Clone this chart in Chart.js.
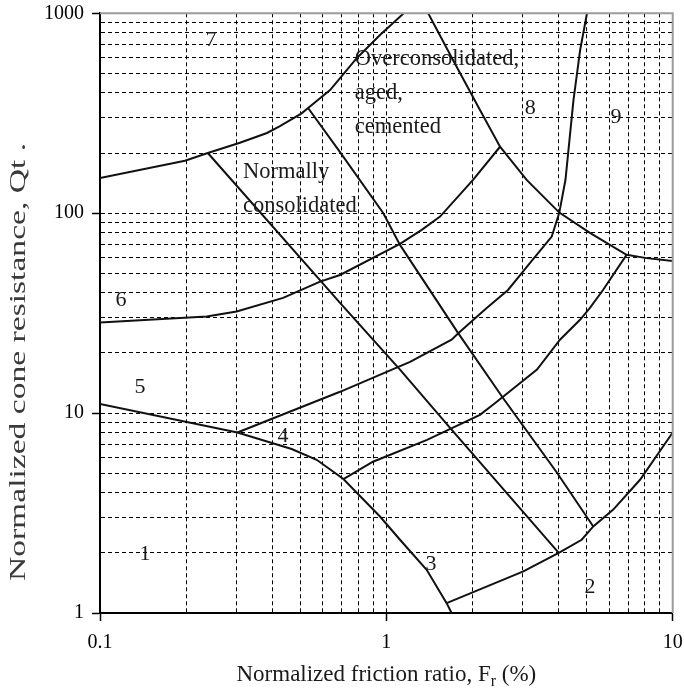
<!DOCTYPE html>
<html>
<head>
<meta charset="utf-8">
<title>Soil behaviour type chart</title>
<script src="https://cdn.jsdelivr.net/npm/chart.js@4.4.1/dist/chart.umd.min.js"></script>
<style>
  html, body { margin: 0; padding: 0; background: #fff; }
  #wrap { width: 684px; height: 692px; position: relative; }
</style>
</head>
<body>
<div id="wrap"><canvas id="sbtChart"></canvas></div>
<script>
// Zone boundaries as [Fr (%), Qt] pairs
const zone7Lower = [[0.1, 150], [0.198, 183], [0.238, 200], [0.308, 225], [0.383, 252], [0.425, 273],
  [0.506, 316], [0.533, 336], [0.636, 413], [0.788, 596], [0.95, 779], [1.15, 1000]];
const ncLeft = [[0.238, 200], [0.689, 35.6], [1.116, 16.5], [1.669, 8.44], [4.0, 2.0]];
const ncRight = [[0.533, 336], [0.689, 202], [0.976, 100], [1.116, 69.4], [1.779, 25.2],
  [2.555, 11.9], [3.944, 5.03], [5.28, 2.71]];
const zone6Upper = [[0.1, 28.4], [0.236, 30.4], [0.3, 32.2], [0.436, 37.7], [0.587, 45.5], [0.689, 49.1],
  [1.116, 70.2], [1.329, 82.5], [1.54, 96.2], [2.008, 146.7], [2.495, 215]];
const zone8Lower = [[1.40, 1000], [1.709, 584], [2.123, 328.5], [2.495, 215], [3.09, 146.7], [4.018, 100.7],
  [5.14, 79.7], [6.9, 61.9], [8.11, 59.6], [10, 57.7]];
const zone9Left = [[5.02, 1000], [4.75, 655], [4.504, 369], [4.222, 147], [4.018, 100.7], [3.781, 76.4],
  [3.176, 56.4], [2.66, 41.3], [2.241, 33.6], [1.783, 25.1], [1.69, 23.3], [1.21, 18.05], [0.689, 12.78], [0.302, 8.0]];
const zone4Upper = [[6.9, 61.9], [5.71, 41.3], [5.14, 33.6], [4.746, 29.3], [4.04, 23.3], [3.358, 16.5],
  [2.394, 11.2], [2.123, 9.8], [1.387, 7.35], [0.898, 5.71], [0.708, 4.68]];
const zone1Upper = [[0.1, 11.1], [0.302, 8.0], [0.467, 6.61], [0.571, 5.84], [0.708, 4.68], [0.95, 3.04],
  [1.116, 2.325], [1.383, 1.646], [1.624, 1.12], [1.69, 1]];
const zone2Upper = [[1.624, 1.12], [3.009, 1.615], [4.0, 2.0], [4.81, 2.325], [5.28, 2.71], [6.2, 3.29],
  [7.69, 4.64], [10, 8.0]];

// Grid lines and labelled ticks
const xGridValues = [0.1, 0.2, 0.3, 0.4, 0.5, 0.6, 0.7, 0.8, 0.9, 1, 2, 3, 4, 5, 6, 7, 8, 9, 10];
const yGridValues = [1, 2, 3, 4, 5, 6, 7, 8, 9, 10, 20, 30, 40, 50, 60, 70, 80, 90,
  100, 200, 300, 400, 500, 600, 700, 800, 900, 1000];
const xTickLabels = [0.1, 1, 10];
const yTickLabels = [1, 10, 100, 1000];

// Zone numbers and region notes, placed at [Fr, Qt]
const zoneNumbers = [
  { text: '1', at: [0.1437, 1.96] }, { text: '2', at: [5.14, 1.35] }, { text: '3', at: [1.432, 1.76] },
  { text: '4', at: [0.436, 7.7] }, { text: '5', at: [0.138, 13.5] }, { text: '6', at: [0.1184, 36.9] },
  { text: '7', at: [0.244, 735] }, { text: '8', at: [3.18, 336] }, { text: '9', at: [6.34, 303] }
];
const regionNotes = [
  { lines: ['Overconsolidated,', 'aged,', 'cemented'], at: [0.776, 551] },
  { lines: ['Normally', 'consolidated'], at: [0.316, 150] }
];

const SERIF = '"Liberation Serif", "Times New Roman", serif';

const boundaries = [zone7Lower, ncLeft, ncRight, zone6Upper, zone8Lower, zone9Left, zone4Upper, zone1Upper, zone2Upper];

const textPlugin = {
  id: 'chartText',
  afterDraw(chart) {
    const { ctx, scales: { x, y }, chartArea } = chart;
    ctx.save();

    // grey frame on top and right
    ctx.strokeStyle = '#9c9c9c';
    ctx.lineWidth = 2;
    ctx.beginPath();
    ctx.moveTo(chartArea.left, chartArea.top);
    ctx.lineTo(chartArea.right, chartArea.top);
    ctx.lineTo(chartArea.right, chartArea.bottom);
    ctx.stroke();

    ctx.fillStyle = '#1a1a1a';
    ctx.font = `22px ${SERIF}`;
    ctx.textAlign = 'center';
    ctx.textBaseline = 'middle';
    zoneNumbers.forEach(z => {
      ctx.fillText(z.text, x.getPixelForValue(z.at[0]), y.getPixelForValue(z.at[1]));
    });

    ctx.font = `22.5px ${SERIF}`;
    ctx.textAlign = 'left';
    ctx.textBaseline = 'alphabetic';
    regionNotes.forEach(n => {
      const px = x.getPixelForValue(n.at[0]);
      const py = y.getPixelForValue(n.at[1]);
      n.lines.forEach((line, i) => ctx.fillText(line, px, py + i * 34));
    });

    // x axis title with subscript
    const main = 'Normalized friction ratio, F';
    const sub = 'r';
    const tail = ' (%)';
    ctx.font = `23px ${SERIF}`;
    const wMain = ctx.measureText(main).width;
    const wTail = ctx.measureText(tail).width;
    ctx.font = `16px ${SERIF}`;
    const wSub = ctx.measureText(sub).width;
    let tx = (chartArea.left + chartArea.right) / 2 - (wMain + wSub + wTail) / 2;
    const ty = 681;
    ctx.font = `23px ${SERIF}`;
    ctx.fillText(main, tx, ty);
    tx += wMain;
    ctx.font = `16px ${SERIF}`;
    ctx.fillText(sub, tx, ty + 5);
    tx += wSub;
    ctx.font = `23px ${SERIF}`;
    ctx.fillText(tail, tx, ty);

    // y axis title, drawn wide along its run
    ctx.fillStyle = '#3a3a3a';
    ctx.translate(25, 362);
    ctx.rotate(-Math.PI / 2);
    ctx.scale(1.46, 1);
    ctx.textAlign = 'center';
    ctx.fillText('Normalized cone resistance, Qt .', 0, 0);

    ctx.restore();
  }
};

const axisFont = { family: SERIF, size: 20 };

new Chart(document.getElementById('sbtChart'), {
  type: 'scatter',
  data: {
    datasets: boundaries.map(line => ({
      data: line.map(([fr, qt]) => ({ x: fr, y: qt })),
      showLine: true,
      borderColor: '#111',
      borderWidth: 2,
      pointRadius: 0,
      tension: 0,
      fill: false
    }))
  },
  options: {
    responsive: true,
    maintainAspectRatio: false,
    animation: false,
    layout: { padding: { top: 13.3, right: 11.3, left: 0, bottom: 0 } },
    plugins: { legend: { display: false }, tooltip: { enabled: false } },
    scales: {
      x: {
        type: 'logarithmic',
        min: 0.1,
        max: 10,
        afterBuildTicks: s => { s.ticks = xGridValues.map(v => ({ value: v, major: xTickLabels.includes(v) })); },
        afterFit: s => { s.height = 79; s.paddingLeft = 0; s.paddingRight = 0; },
        ticks: {
          autoSkip: false, maxRotation: 0, padding: 10, color: '#000', font: axisFont,
          callback: v => xTickLabels.includes(v) ? String(v) : ''
        },
        grid: {
          color: c => (c.tick && c.tick.value === 10) ? 'transparent' : '#000',
          lineWidth: 1,
          tickLength: 8,
          tickWidth: 1.5,
          tickColor: c => (c.tick && xTickLabels.includes(c.tick.value)) ? '#000' : 'transparent'
        },
        border: { display: true, color: '#000', width: 2, dash: [4, 3] }
      },
      y: {
        type: 'logarithmic',
        min: 1,
        max: 1000,
        afterBuildTicks: s => { s.ticks = yGridValues.map(v => ({ value: v, major: yTickLabels.includes(v) })); },
        afterFit: s => { s.width = 100; s.paddingTop = 0; s.paddingBottom = 0; },
        ticks: {
          autoSkip: false, padding: 8, color: '#000', font: axisFont,
          callback: v => yTickLabels.includes(v) ? String(v) : ''
        },
        grid: {
          color: c => (c.tick && c.tick.value === 1000) ? 'transparent' : '#000',
          lineWidth: 1,
          tickLength: 8,
          tickWidth: 1.5,
          tickColor: c => (c.tick && yTickLabels.includes(c.tick.value)) ? '#000' : 'transparent'
        },
        border: { display: true, color: '#000', width: 2, dash: [4, 3] }
      }
    }
  },
  plugins: [textPlugin]
});
</script>
</body>
</html>
